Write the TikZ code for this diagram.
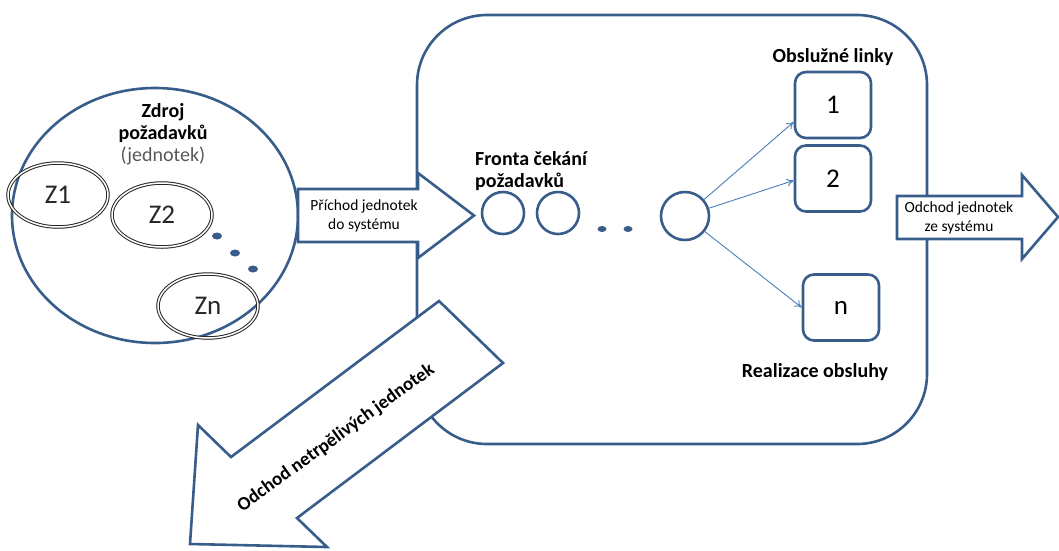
\documentclass[tikz,border=0pt]{standalone}
\usepackage{fontspec}
\setmainfont{Carlito}
\usetikzlibrary{shapes.geometric,arrows.meta}
\definecolor{shapeline}{HTML}{385D8A}
\definecolor{linkline}{HTML}{4A7EBB}
\begin{document}
\begin{tikzpicture}[x=1pt,y=-1pt,
  outline/.style={draw=shapeline, line width=2.6pt, line join=miter},
  blockarrow/.style={outline, fill=white},
  heading/.style={font=\fontsize{20}{22}\selectfont\bfseries, text=black, inner sep=0pt},
  arrowlabel/.style={font=\fontsize{15.5}{19}\selectfont, align=center, inner sep=0pt},
  srcunit/.style={ellipse, draw=black!85, line width=1pt, double=white,
    double distance=1.5pt, minimum width=100pt, minimum height=64pt, inner sep=0pt,
    font=\fontsize{27}{27}\selectfont, text=black!85},
  srcdot/.style={ellipse, fill=shapeline, minimum width=10pt, minimum height=7pt, inner sep=0pt},
  queuedot/.style={ellipse, fill=shapeline, minimum width=9pt, minimum height=6pt, inner sep=0pt},
  slot/.style={circle, outline, inner sep=0pt},
  server/.style={outline, rounded corners=11pt, minimum width=76pt, minimum height=66pt,
    inner sep=0pt, font=\fontsize{27}{27}\selectfont},
  link/.style={draw=linkline, line width=0.9pt, -{To[length=7pt,width=8pt]}}]
\useasboundingbox (0,0) rectangle (1059,550);

% the service system
\node[outline, rounded corners=70pt, minimum width=510pt, minimum height=429pt] (sys) at (672,229.5) {};

% source of requests
\node[outline, ellipse, minimum width=286pt, minimum height=255pt] (src) at (155,215.5) {};
\node[srcunit] (z1) at (58,195) {Z1};
\node[srcunit] (z2) at (162,215) {Z2};
\node[srcunit] (zn) at (208,306) {Zn};
\node[srcdot] (sd1) at (217,236) {};
\node[srcdot] (sd2) at (235,253) {};
\node[srcdot] (sd3) at (253,269) {};
\node[heading, align=center] (srctitle) at (163,134) {Zdroj\\požadavků\\{\mdseries\color{black!65}(jednotek)}};

% queue
\node[slot, minimum size=42pt] (q1) at (503,213) {};
\node[slot, minimum size=42pt] (q2) at (558,213) {};
\node[queuedot] (qd1) at (602,229) {};
\node[queuedot] (qd2) at (628,229) {};
\node[slot, minimum size=48pt] (q3) at (685,216) {};
\node[heading, align=left, anchor=west] (queuetitle) at (475,171) {Fronta čekání\\požadavků};

% service channels
\node[server] (b1) at (833,105) {1};
\node[server] (b2) at (833,178.5) {2};
\node[server] (bn) at (841,307.5) {n};
\node[heading] (servtitle) at (833,57) {Obslužné linky};
\node[heading] (servfoot) at (815,372) {Realizace obsluhy};

\draw[link] (q3) -- ([yshift=-17pt]b1.west);
\draw[link] (q3) -- ([yshift=-2pt]b2.west);
\draw[link] (q3) -- (bn.west);

% arrivals
\draw[blockarrow] (298,189) -- (418,189) -- (418,173) -- (474,215.5) -- (418,258)
  -- (418,242) -- (298,242) -- cycle;
\node[arrowlabel] (inlabel) at (364,216) {Příchod jednotek\\do systému};

% departures
\draw[blockarrow] (897,196) -- (1022,196) -- (1022,175) -- (1058,217) -- (1022,259)
  -- (1022,239) -- (897,239) -- cycle;
\node[arrowlabel] (outlabel) at (959,218) {Odchod jednotek\\ze systému};

% impatient units leaving
\draw[blockarrow] (439,301) -- (503,363) -- (297,518) -- (327,547) -- (190,544)
  -- (198,425) -- (231,457) -- cycle;
\node[heading, font=\fontsize{19}{19}\selectfont\bfseries, rotate=36] (leavelabel) at (336,438) {Odchod netrpělivých jednotek};
\end{tikzpicture}
\end{document}
